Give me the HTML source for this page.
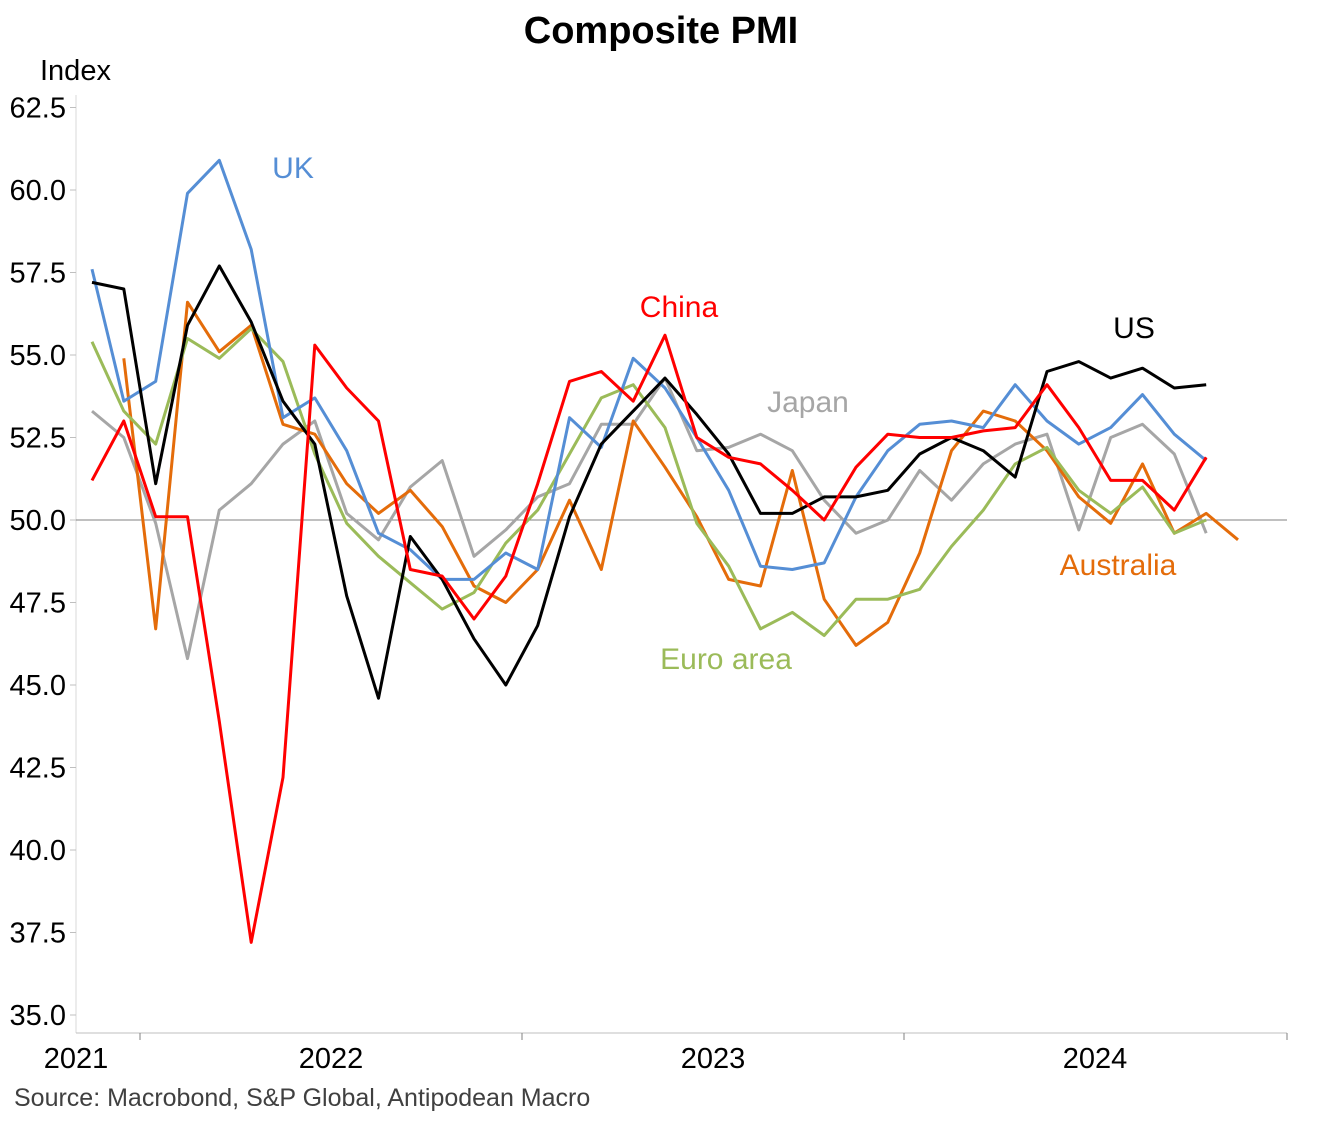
<!DOCTYPE html>
<html><head><meta charset="utf-8"><style>
body{margin:0;background:#fff;}
svg{display:block;font-family:"Liberation Sans",Arial,sans-serif;}
</style></head><body>
<svg id="chart" width="1323" height="1122">
<text x="661" y="43" text-anchor="middle" font-size="38" font-weight="bold">Composite PMI</text>
<text x="40" y="80" font-size="29">Index</text>
<text x="14" y="1106" font-size="25" fill="#404040">Source: Macrobond, S&amp;P Global, Antipodean Macro</text>
<g id="axes"></g>
<g id="series"></g>
<g id="labels"></g>
</svg>
<script>
const yTicks=[35.0,37.5,40.0,42.5,45.0,47.5,50.0,52.5,55.0,57.5,60.0,62.5];
const yearLabels=["2021","2022","2023","2024"];
const us=[57.2,57.0,51.1,55.9,57.7,56.0,53.6,52.3,47.7,44.6,49.5,48.2,46.4,45.0,46.8,50.1,52.3,53.3,54.3,53.2,52.0,50.2,50.2,50.7,50.7,50.9,52.0,52.5,52.1,51.3,54.5,54.8,54.3,54.6,54.0,54.1];
const uk=[57.6,53.6,54.2,59.9,60.9,58.2,53.1,53.7,52.1,49.6,49.1,48.2,48.2,49.0,48.5,53.1,52.2,54.9,54.0,52.5,50.9,48.6,48.5,48.7,50.7,52.1,52.9,53.0,52.8,54.1,53.0,52.3,52.8,53.8,52.6,51.8];
const china=[51.2,53.0,50.1,50.1,43.9,37.2,42.2,55.3,54.0,53.0,48.5,48.3,47.0,48.3,51.1,54.2,54.5,53.6,55.6,52.5,51.9,51.7,50.9,50.0,51.6,52.6,52.5,52.5,52.7,52.8,54.1,52.8,51.2,51.2,50.3,51.9];
const euro=[55.4,53.3,52.3,55.5,54.9,55.8,54.8,52.0,49.9,48.9,48.1,47.3,47.8,49.3,50.3,52.0,53.7,54.1,52.8,49.9,48.6,46.7,47.2,46.5,47.6,47.6,47.9,49.2,50.3,51.7,52.2,50.9,50.2,51.0,49.6,50.0];
const japan=[53.3,52.5,49.9,45.8,50.3,51.1,52.3,53.0,50.2,49.4,51.0,51.8,48.9,49.7,50.7,51.1,52.9,52.9,54.3,52.1,52.2,52.6,52.1,50.6,49.6,50.0,51.5,50.6,51.7,52.3,52.6,49.7,52.5,52.9,52.0,49.6];
const australia=[null,54.9,46.7,56.6,55.1,55.9,52.9,52.6,51.1,50.2,50.9,49.8,48.0,47.5,48.5,50.6,48.5,53.0,51.6,50.1,48.2,48.0,51.5,47.6,46.2,46.9,49.0,52.1,53.3,53.0,52.1,50.7,49.9,51.7,49.6,50.2,49.4];

const NS="http://www.w3.org/2000/svg";
const y=v=>520-(v-50)*33;
const x=i=>92+i*(382/12);
function mk(tag,attrs,parent){const e=document.createElementNS(NS,tag);for(const k in attrs)e.setAttribute(k,attrs[k]);parent.appendChild(e);return e;}
const axes=document.getElementById('axes');
let e;
e=mk('line',{x1:76,x2:76,y1:95,y2:1033,stroke:'#d9d9d9','stroke-width':1},axes);


e=mk('line',{x1:76,x2:1287,y1:1033,y2:1033,stroke:'#bfbfbf','stroke-width':1},axes);


e=mk('line',{x1:76,x2:1287,y1:y(50),y2:y(50),stroke:'#808080','stroke-width':1},axes);


yTicks.forEach(v=>{
 const t=mk('text',{x:66,y:y(v)+10,'text-anchor':'end','font-size':29},axes);
 t.textContent=v.toFixed(1);
 
 
 const l=mk('line',{x1:70,x2:76,y1:y(v),y2:y(v),stroke:'#bfbfbf'},axes);
 
 
});
[140,522,904,1287].forEach(px=>{
 const l=mk('line',{x1:px,x2:px,y1:1033,y2:1040,stroke:'#808080'},axes);
 
 
});
const yearX=[76,331,713,1095];
yearLabels.forEach((s,i)=>{
 const t=mk('text',{x:yearX[i],y:1068,'text-anchor':'middle','font-size':29},axes);
 t.textContent=s;
 
 
});
const ser=document.getElementById('series');
const defs=[["japan",japan,"#a6a6a6"],["australia",australia,"#e46c0a"],["euro-area",euro,"#9bbb59"],["uk",uk,"#558ed5"],["us",us,"#000000"],["china",china,"#ff0000"]];
defs.forEach(([n,arr,c])=>{
 let d="";arr.forEach((v,i)=>{if(v==null)return;d+=(d?"L":"M")+x(i).toFixed(1)+","+y(v).toFixed(1);});
 const p=mk('path',{d:d,fill:'none',stroke:c,'stroke-width':3,'stroke-linejoin':'round'},ser);
 
 
});
const lab=document.getElementById('labels');
[["UK",293,178,"#558ed5"],["China",679,317,"#ff0000"],["US",1134,338,"#000"],["Japan",808,412,"#a6a6a6"],["Australia",1118,575,"#e46c0a"],["Euro area",726,669,"#9bbb59"]].forEach(([s,px,py,c])=>{
 const t=mk('text',{x:px,y:py,'text-anchor':'middle','font-size':30,fill:c},lab);
 t.textContent=s;
 
 
});
</script>
</body></html>
